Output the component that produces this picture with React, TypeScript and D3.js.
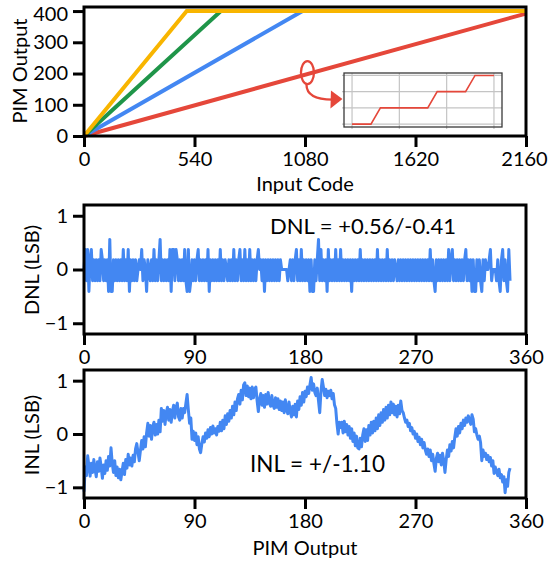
import React, { useEffect, useRef } from 'react';
import * as d3 from 'd3';

const W = 548;
const H = 563;
const FONT = 'Lato, "Open Sans", sans-serif';

const RED = '#E5473A';
const BLUE = '#4387F2';
const GREEN = '#1F9549';
const YELLOW = '#F8B500';

// top panel: transfer curves, input code -> PIM output (break points)
const codeTicks = [0, 540, 1080, 1620, 2160];
const outTicks = [0, 100, 200, 300, 400];
const redCodes = [0, 2160];
const redOut = [0, 392];
const blueCodes = [0, 1068, 2160];
const blueOut = [0, 400, 400];
const greenCodes = [0, 669, 2160];
const greenOut = [0, 400, 400];
const yellowCodes = [0, 502, 2160];
const yellowOut = [0, 400, 400];

// zoomed inset of the red curve (staircase)
const insetX = [0, 0.4, 0.6, 1.6, 1.8, 2.4, 2.6, 3];
const insetY = [0, 0, 1, 1, 2, 2, 3, 3];
const insetTicks = [0, 1, 2, 3];

// DNL / INL vs PIM output
const pimTicks = [0, 90, 180, 270, 360];
const lsbTicks = [-1, 0, 1];

const dnl = [
  0.0, 0.37, -0.21, 0.37, -0.41, 0.18, 0.37, -0.21, 0.18, -0.21,
  0.18, -0.21, 0.18, -0.21, 0.37, 0.18, -0.21, 0.18, -0.21, 0.18,
  -0.41, 0.56, -0.41, -0.41, 0.18, -0.21, 0.18, -0.21, 0.18, -0.21,
  0.18, -0.21, 0.37, -0.21, 0.18, -0.21, 0.37, -0.41, 0.18, -0.21,
  0.18, -0.21, 0.18, -0.21, 0.0, 0.18, 0.0, 0.37, -0.21, 0.18,
  0.0, -0.41, 0.18, 0.0, -0.21, 0.18, -0.21, 0.37, -0.21, 0.18,
  -0.21, 0.18, 0.56, -0.21, 0.18, -0.21, 0.18, -0.21, 0.18, -0.21,
  0.37, -0.41, 0.37, 0.37, -0.21, 0.37, 0.18, -0.21, 0.18, -0.21,
  0.18, -0.21, 0.37, -0.21, -0.41, 0.37, -0.41, -0.21, 0.18, -0.21,
  0.18, -0.21, 0.18, 0.37, -0.21, 0.18, -0.21, 0.18, -0.21, 0.18,
  -0.21, 0.37, -0.41, 0.18, -0.21, 0.18, -0.21, 0.18, -0.21, 0.18,
  -0.21, 0.37, -0.21, 0.18, -0.21, 0.18, 0.0, -0.21, 0.18, -0.21,
  0.18, -0.21, 0.37, -0.21, 0.18, -0.21, 0.18, 0.37, -0.21, 0.18,
  -0.21, 0.37, -0.21, 0.18, -0.21, 0.37, -0.21, 0.18, -0.21, 0.18,
  -0.21, 0.18, 0.37, 0.0, 0.18, -0.21, 0.18, -0.41, 0.18, -0.21,
  0.18, -0.21, 0.18, -0.21, 0.18, -0.21, 0.18, -0.21, 0.18, -0.21,
  0.18, 0.0, 0.0, 0.0, 0.0, 0.0, -0.21, 0.0, 0.18, -0.21,
  0.18, -0.21, 0.18, 0.37, -0.21, 0.18, -0.21, 0.37, -0.21, 0.18,
  -0.21, 0.18, -0.21, 0.18, -0.41, 0.18, -0.41, -0.41, 0.18, -0.21,
  0.18, 0.56, -0.21, 0.37, -0.21, 0.18, -0.21, 0.18, -0.41, 0.37,
  -0.21, 0.18, -0.21, 0.18, -0.21, 0.37, -0.21, 0.18, -0.21, 0.37,
  -0.21, 0.18, -0.21, 0.18, -0.21, 0.18, -0.21, 0.18, -0.41, 0.18,
  -0.21, 0.18, -0.21, 0.18, -0.21, 0.37, -0.21, 0.18, -0.21, 0.18,
  -0.21, 0.18, -0.21, 0.18, -0.21, 0.18, -0.21, 0.18, -0.21, 0.37,
  -0.21, 0.18, -0.21, 0.18, -0.21, 0.18, -0.21, 0.37, -0.21, 0.18,
  -0.21, 0.18, -0.21, 0.18, 0.0, -0.21, 0.18, -0.21, 0.18, -0.21,
  0.18, -0.21, 0.18, -0.21, 0.18, -0.21, 0.18, -0.21, 0.18, -0.21,
  0.18, -0.21, 0.18, -0.21, 0.18, -0.21, 0.18, -0.21, 0.18, -0.21,
  0.18, -0.21, 0.37, -0.21, 0.18, -0.21, -0.41, 0.18, -0.21, 0.18,
  -0.21, 0.18, -0.21, 0.18, -0.21, 0.18, -0.21, 0.37, -0.21, 0.18,
  0.37, -0.21, 0.18, -0.21, 0.18, -0.21, 0.18, -0.21, 0.18, -0.21,
  0.18, 0.37, -0.21, 0.18, -0.21, 0.18, -0.41, 0.18, -0.41, -0.41,
  0.18, -0.21, 0.18, -0.21, -0.41, 0.18, -0.21, 0.18, 0.0, 0.0,
  0.18, 0.37, -0.21, 0.0, 0.0, 0.0, -0.21, 0.18, -0.21, -0.41,
  0.18, 0.37, -0.21, 0.18, -0.21, -0.41, 0.37, -0.21,
];

const inl = [
  -1.08, -0.62, -0.78, -0.41, -0.6, -0.79, -0.55, -0.72, -0.48, -0.66,
  -0.8, -0.52, -0.7, -0.45, -0.62, -0.83, -0.58, -0.74, -0.5, -0.68,
  -0.42, -0.6, -0.26, -0.55, -0.72, -0.5, -0.78, -0.62, -0.82, -0.66,
  -0.86, -0.7, -0.55, -0.76, -0.48, -0.64, -0.38, -0.58, -0.45, -0.6,
  -0.4, -0.52, -0.28, -0.18, -0.35, -0.5, -0.3, -0.12, -0.28, -0.05,
  -0.24, 0.02, 0.2, -0.04, 0.16, -0.1, 0.14, 0.22, -0.02, 0.18,
  0.0, 0.26, 0.04, 0.48, 0.24, 0.44, 0.18, 0.4, 0.5, 0.26,
  0.46, 0.22, 0.42, 0.54, 0.3, 0.5, 0.58, 0.32, 0.26, 0.48,
  0.3, 0.48, 0.4, 0.58, 0.74, 0.45, 0.2, 0.3, -0.1, 0.05,
  -0.12, 0.02, -0.2, -0.05, -0.28, -0.35, -0.18, -0.05, -0.15, 0.02,
  -0.08, 0.08, -0.05, 0.12, 0.0, 0.15, 0.02, 0.1, -0.02, 0.14,
  0.05, 0.22, 0.06, 0.26, 0.1, 0.34, 0.18, 0.38, 0.24, 0.44,
  0.3, 0.52, 0.36, 0.6, 0.44, 0.66, 0.74, 0.56, 0.82, 0.64,
  0.92, 0.96, 0.72, 0.9, 0.7, 0.86, 0.66, 0.88, 0.68, 0.84,
  0.88, 0.62, 0.42, 0.66, 0.76, 0.54, 0.72, 0.5, 0.74, 0.56,
  0.78, 0.58, 0.52, 0.72, 0.54, 0.48, 0.68, 0.5, 0.66, 0.46,
  0.62, 0.44, 0.6, 0.4, 0.64, 0.46, 0.38, 0.6, 0.42, 0.32,
  0.52, 0.36, 0.56, 0.32, 0.62, 0.46, 0.7, 0.54, 0.78, 0.6,
  0.8, 0.7, 0.88, 0.76, 0.92, 1.06, 0.82, 0.94, 0.78, 0.72,
  0.86, 0.62, 0.4, 0.8, 1.02, 0.88, 0.72, 0.84, 0.68, 0.8,
  0.72, 0.82, 0.66, 0.76, 0.55, 0.48, 0.2, 0.0, 0.22, 0.12,
  0.22, 0.02, 0.24, 0.04, 0.18, -0.02, 0.14, -0.08, 0.1, -0.14,
  0.02, -0.22, -0.04, -0.26, -0.28, -0.08, -0.24, -0.02, 0.1, -0.14,
  0.08, -0.12, 0.16, -0.02, 0.22, 0.02, 0.24, 0.06, 0.3, 0.1,
  0.36, 0.16, 0.4, 0.22, 0.46, 0.26, 0.5, 0.3, 0.54, 0.36,
  0.6, 0.4, 0.56, 0.36, 0.52, 0.32, 0.54, 0.38, 0.62, 0.44,
  0.4, 0.3, 0.22, 0.26, 0.14, 0.2, 0.06, 0.12, 0.0, 0.05,
  -0.08, 0.0, -0.14, -0.06, -0.2, -0.1, -0.26, -0.16, -0.3, -0.38,
  -0.28, -0.42, -0.3, -0.5, -0.38, -0.56, -0.7, -0.45, -0.36, -0.52,
  -0.4, -0.58, -0.36, -0.5, -0.72, -0.48, -0.3, -0.42, -0.2, -0.32,
  -0.14, -0.26, -0.06, 0.1, -0.04, 0.14, 0.02, 0.2, 0.1, 0.26,
  0.16, 0.3, 0.22, 0.34, 0.26, 0.18, 0.36, 0.28, 0.04, 0.1,
  -0.02, -0.1, -0.04, -0.16, -0.5, -0.3, -0.42, -0.36, -0.48, -0.4,
  -0.52, -0.44, -0.6, -0.5, -0.74, -0.62, -0.7, -0.78, -0.66, -0.82,
  -0.76, -0.9, -0.8, -1.1, -0.86, -0.98, -0.72, -0.64,
];

export default function App() {
  const svgRef = useRef<SVGSVGElement>(null);

  useEffect(() => {
    const svg = d3.select(svgRef.current);
    svg.selectAll('*').remove();

    const styleAxis = (g: any) => {
      g.select('.domain').remove();
      g.selectAll('line').attr('stroke', '#000').attr('stroke-width', 3);
      g.selectAll('text')
        .attr('font-family', FONT)
        .attr('font-size', 20)
        .attr('fill', '#000');
    };

    const frame = (x: any, y: any) => {
      const [x0, x1] = x.range();
      const [y0, y1] = y.range();
      svg
        .append('rect')
        .attr('x', x0)
        .attr('y', Math.min(y0, y1))
        .attr('width', x1 - x0)
        .attr('height', Math.abs(y0 - y1))
        .attr('fill', 'none')
        .attr('stroke', '#000')
        .attr('stroke-width', 3);
    };

    const label = (text: string, x: number, y: number, size: number, rotate = false, anchor = 'middle') => {
      svg
        .append('text')
        .attr('x', x)
        .attr('y', y)
        .attr('transform', rotate ? `rotate(-90, ${x}, ${y})` : null)
        .attr('text-anchor', anchor)
        .attr('font-family', FONT)
        .attr('font-size', size)
        .attr('fill', '#000')
        .text(text);
    };

    const fmt = d3.format('d');

    // ---------- top panel ----------
    const xCode = d3.scaleLinear().domain([0, 2160]).range([84, 526]);
    const yOut = d3.scaleLinear().domain([0, 413]).range([136, 7]);

    const curve = d3
      .line<[number, number]>()
      .x((d) => xCode(d[0]))
      .y((d) => yOut(d[1]));

    const series = [
      { codes: redCodes, out: redOut, color: RED },
      { codes: blueCodes, out: blueOut, color: BLUE },
      { codes: greenCodes, out: greenOut, color: GREEN },
      { codes: yellowCodes, out: yellowOut, color: YELLOW },
    ];
    series.forEach((s) => {
      svg
        .append('path')
        .datum(d3.zip(s.codes, s.out) as [number, number][])
        .attr('d', curve)
        .attr('fill', 'none')
        .attr('stroke', s.color)
        .attr('stroke-width', 4);
    });

    // inset
    const xIn = d3.scaleLinear().domain([-0.17, 3.17]).range([344, 502]);
    const yIn = d3.scaleLinear().domain([-0.18, 3.15]).range([127, 73]);
    const inset = svg.append('g');
    inset
      .append('rect')
      .attr('x', 344)
      .attr('y', 73)
      .attr('width', 158)
      .attr('height', 54)
      .attr('fill', '#fff');
    inset
      .selectAll('.gx')
      .data(insetTicks)
      .join('line')
      .attr('x1', (d) => xIn(d))
      .attr('x2', (d) => xIn(d))
      .attr('y1', 73)
      .attr('y2', 129)
      .attr('stroke', '#c4c4c4')
      .attr('stroke-width', 1.2);
    inset
      .selectAll('.gy')
      .data(insetTicks)
      .join('line')
      .attr('y1', (d) => yIn(d))
      .attr('y2', (d) => yIn(d))
      .attr('x1', 342)
      .attr('x2', 502)
      .attr('stroke', '#c4c4c4')
      .attr('stroke-width', 1.2);
    inset
      .append('rect')
      .attr('x', 344)
      .attr('y', 73)
      .attr('width', 158)
      .attr('height', 54)
      .attr('fill', 'none')
      .attr('stroke', '#3a3a3a')
      .attr('stroke-width', 1.3);
    inset
      .append('path')
      .datum(d3.zip(insetX, insetY) as [number, number][])
      .attr(
        'd',
        d3
          .line<[number, number]>()
          .x((d) => xIn(d[0]))
          .y((d) => yIn(d[1]))
      )
      .attr('fill', 'none')
      .attr('stroke', RED)
      .attr('stroke-width', 1.6);

    // ellipse marker + arrow
    const cx = xCode(1092);
    const cy = yOut(203);
    svg
      .append('ellipse')
      .attr('cx', cx)
      .attr('cy', cy)
      .attr('rx', 6.5)
      .attr('ry', 11.5)
      .attr('fill', 'none')
      .attr('stroke', RED)
      .attr('stroke-width', 2.3);
    svg
      .append('path')
      .attr('d', `M${cx - 1},${cy + 12} C${cx - 1},${cy + 22} ${cx + 8},${cy + 27} ${cx + 25},${cy + 27}`)
      .attr('fill', 'none')
      .attr('stroke', RED)
      .attr('stroke-width', 2.3);
    svg
      .append('path')
      .attr('d', `M${cx + 23.5},${cy + 18} L${cx + 35},${cy + 26.5} L${cx + 23},${cy + 36} Z`)
      .attr('fill', RED);

    frame(xCode, yOut);
    const xTopAxis = svg
      .append('g')
      .attr('transform', 'translate(0,136)')
      .call(d3.axisBottom(xCode).tickValues(codeTicks).tickFormat(fmt).tickSize(11).tickPadding(5).tickSizeOuter(0))
      .call(styleAxis);
    // keep the last label inside the page, as in the original
    xTopAxis.selectAll('.tick text').filter((d: any) => d === 2160).attr('dx', -2);
    const yTopAxis = svg
      .append('g')
      .attr('transform', 'translate(84,0)')
      .call(d3.axisLeft(yOut).tickValues(outTicks).tickFormat(fmt).tickSize(11).tickPadding(5).tickSizeOuter(0))
      .call(styleAxis);
    // top label sits against the page edge
    yTopAxis.selectAll('.tick text').filter((d: any) => d === 400).attr('dy', '0.46em');
    label('PIM Output', 27, 71, 20, true);
    label('Input Code', 305, 191, 20);

    // ---------- DNL ----------
    const xPim = d3.scaleLinear().domain([0, 360]).range([84, 526]);
    const yDnl = d3.scaleLinear().domain([-1.2, 1.2]).range([334, 205]);
    svg
      .append('path')
      .datum(dnl)
      .attr(
        'd',
        d3
          .line<number>()
          .x((_, i) => xPim(i))
          .y((d) => yDnl(d))
      )
      .attr('fill', 'none')
      .attr('stroke', BLUE)
      .attr('stroke-width', 3)
      .attr('stroke-linejoin', 'round');
    frame(xPim, yDnl);
    svg
      .append('g')
      .attr('transform', 'translate(0,334)')
      .call(d3.axisBottom(xPim).tickValues(pimTicks).tickFormat(fmt).tickSize(11).tickPadding(5).tickSizeOuter(0))
      .call(styleAxis);
    svg
      .append('g')
      .attr('transform', 'translate(84,0)')
      .call(d3.axisLeft(yDnl).tickValues(lsbTicks).tickFormat(fmt).tickSize(11).tickPadding(5).tickSizeOuter(0))
      .call(styleAxis);
    label('DNL (LSB)', 39, 270, 20, true);
    label('DNL = +0.56/-0.41', 270, 234, 22, false, 'start');

    // ---------- INL ----------
    const yInl = d3.scaleLinear().domain([-1.2, 1.2]).range([498, 370]);
    svg
      .append('path')
      .datum(inl)
      .attr(
        'd',
        d3
          .line<number>()
          .x((_, i) => xPim(i))
          .y((d) => yInl(d))
      )
      .attr('fill', 'none')
      .attr('stroke', BLUE)
      .attr('stroke-width', 3)
      .attr('stroke-linejoin', 'round');
    frame(xPim, yInl);
    svg
      .append('g')
      .attr('transform', 'translate(0,498)')
      .call(d3.axisBottom(xPim).tickValues(pimTicks).tickFormat(fmt).tickSize(11).tickPadding(5).tickSizeOuter(0))
      .call(styleAxis);
    svg
      .append('g')
      .attr('transform', 'translate(84,0)')
      .call(d3.axisLeft(yInl).tickValues(lsbTicks).tickFormat(fmt).tickSize(11).tickPadding(5).tickSizeOuter(0))
      .call(styleAxis);
    label('INL (LSB)', 39, 435, 20, true);
    label('INL = +/-1.10', 250, 472, 22.5, false, 'start');
    label('PIM Output', 305, 555, 20);
  }, []);

  return (
    <svg
      ref={svgRef}
      width={W}
      height={H}
      style={{ position: 'absolute', left: 0, top: 0, background: '#fff' }}
    />
  );
}
